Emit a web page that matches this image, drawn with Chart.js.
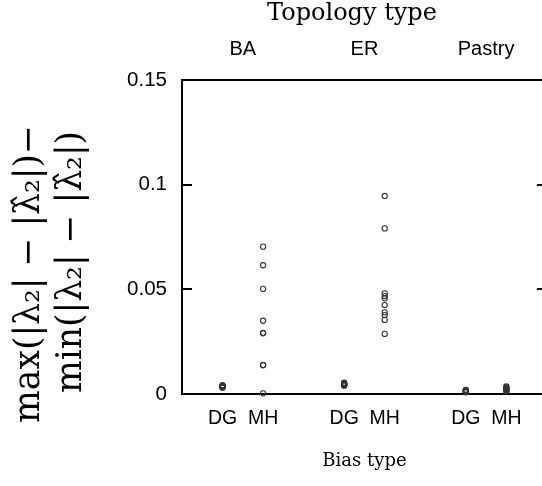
<!DOCTYPE html>
<html>
<head>
<meta charset="utf-8">
<script src="https://cdn.jsdelivr.net/npm/chart.js@4"></script>
<style>
html, body { margin: 0; padding: 0; background: #fff; overflow: hidden; }
#wrap { position: absolute; left: 0; top: 0; width: 552px; height: 486px; }
</style>
</head>
<body>
<div id="wrap"><canvas id="chart" width="552" height="486"></canvas></div>
<script>
// Categories and ticks
const topologies = ['BA', 'ER', 'Pastry'];
const biasTypes = ['DG', 'MH'];
const yTicks = [0, 0.05, 0.1, 0.15];
const yTickLabels = ['0', '0.05', '0.1', '0.15'];

// Values (one array per topology / bias pair)
const baDG = [0.0030, 0.0032, 0.0033, 0.0034, 0.0035, 0.0036, 0.0037, 0.0038, 0.0040, 0.0042];
const baMH = [0.0704, 0.0615, 0.0502, 0.0350, 0.0292, 0.0290, 0.0139, 0.0137, 0.0003];
const erDG = [0.0040, 0.0042, 0.0044, 0.0045, 0.0046, 0.0048, 0.0050, 0.0052, 0.0054];
const erMH = [0.0946, 0.0791, 0.0481, 0.0468, 0.0457, 0.0425, 0.0390, 0.0377, 0.0354, 0.0287];
const pastryDG = [0.0008, 0.0010, 0.0012, 0.0014, 0.0016, 0.0018, 0.0020];
const pastryMH = [0.0012, 0.0016, 0.0020, 0.0024, 0.0028, 0.0032, 0.0036];

const groups = [[baDG, baMH], [erDG, erMH], [pastryDG, pastryMH]];

const yTitleLines = ['max(|\u03BB\u2082| \u2212 |\u03BB\u0302\u2082|)\u2212', 'min(|\u03BB\u2082| \u2212 |\u03BB\u0302\u2082|)'];

// each topology spans one unit on x, the two bias types sit at 1/3 and 2/3 of it
const biasPos = (t, b) => t + (b + 1) / 3;

const datasets = [];
groups.forEach((pair, t) => {
    pair.forEach((vals, b) => {
        datasets.push({
            label: topologies[t] + ' ' + biasTypes[b],
            data: vals.map(v => ({ x: biasPos(t, b), y: v })),
            pointRadius: 2.6,
            pointBorderWidth: 1.1,
            pointBorderColor: '#333',
            pointBackgroundColor: 'rgba(255,255,255,0)',
            showLine: false,
            clip: false,
        });
    });
});

const SANS = 'Liberation Sans';
const SERIF = 'DejaVu Serif';

const decor = {
    id: 'decor',
    afterDraw(chart) {
        const { ctx, chartArea: a, scales } = chart;
        ctx.save();
        // inward ticks on both y sides
        ctx.strokeStyle = '#000';
        ctx.lineWidth = 2;
        yTicks.forEach(v => {
            const py = Math.round(scales.y.getPixelForValue(v));
            ctx.beginPath();
            ctx.moveTo(a.left, py);
            ctx.lineTo(a.left + 10, py);
            ctx.moveTo(a.right, py);
            ctx.lineTo(a.right - 10, py);
            ctx.stroke();
        });

        ctx.fillStyle = '#000';
        ctx.textAlign = 'center';
        ctx.textBaseline = 'alphabetic';
        ctx.font = '24px "' + SERIF + '"';
        ctx.fillText('Topology type', 352, 20);

        // two-line rotated y title, sized to the reference length
        ctx.font = '20px "' + SERIF + '"';
        const size = 20 * 298 / ctx.measureText(yTitleLines[0]).width;
        ctx.font = size.toFixed(1) + 'px "' + SERIF + '"';
        ctx.textBaseline = 'middle';
        [[30, 274], [72, 262]].forEach(([x, y], i) => {
            ctx.save();
            ctx.translate(x, y);
            ctx.rotate(-Math.PI / 2);
            ctx.fillText(yTitleLines[i], 0, 0);
            ctx.restore();
        });
        ctx.restore();
    }
};

const axisBorder = { display: true, color: '#000', width: 2 };
const noGrid = { display: false, drawTicks: false };

new Chart(document.getElementById('chart'), {
    type: 'scatter',
    data: { datasets },
    options: {
        responsive: false,
        animation: false,
        devicePixelRatio: 1,
        layout: { padding: 0 },
        plugins: { legend: { display: false }, tooltip: { enabled: false } },
        scales: {
            x: {
                type: 'linear', position: 'bottom', min: 0, max: 3,
                afterBuildTicks: s => {
                    s.ticks = [];
                    topologies.forEach((_, t) => biasTypes.forEach((_, b) => s.ticks.push({ value: biasPos(t, b) })));
                },
                afterFit: s => { s.height = 92; },
                grid: noGrid,
                border: axisBorder,
                ticks: {
                    callback: (v, i) => biasTypes[i % 2],
                    font: { family: SANS, size: 19.5 }, color: '#000',
                    padding: 13, maxRotation: 0, autoSkip: false,
                },
                title: {
                    display: true, text: 'Bias type', color: '#000',
                    font: { family: SERIF, size: 18 }, padding: { top: 0, bottom: 14 },
                },
            },
            x2: {
                type: 'linear', position: 'top', min: 0, max: 3,
                afterBuildTicks: s => { s.ticks = topologies.map((_, t) => ({ value: t + 0.5 })); },
                afterFit: s => { s.height = 80; },
                grid: noGrid,
                border: axisBorder,
                ticks: {
                    callback: (v, i) => topologies[i],
                    font: { family: SANS, size: 20 }, color: '#000',
                    padding: 19, maxRotation: 0, autoSkip: false,
                },
            },
            y: {
                type: 'linear', position: 'left', min: 0, max: 0.15,
                afterBuildTicks: s => { s.ticks = yTicks.map(v => ({ value: v })); },
                afterFit: s => { s.width = 182; },
                grid: noGrid,
                border: axisBorder,
                ticks: {
                    callback: (v, i) => yTickLabels[i],
                    font: { family: SANS, size: 20.5 }, color: '#000', padding: 15,
                },
            },
            y2: {
                type: 'linear', position: 'right', min: 0, max: 0.15,
                afterFit: s => { s.width = 5; },
                grid: noGrid,
                border: axisBorder,
                ticks: { display: false },
            },
        },
    },
    plugins: [decor],
});
</script>
</body>
</html>
